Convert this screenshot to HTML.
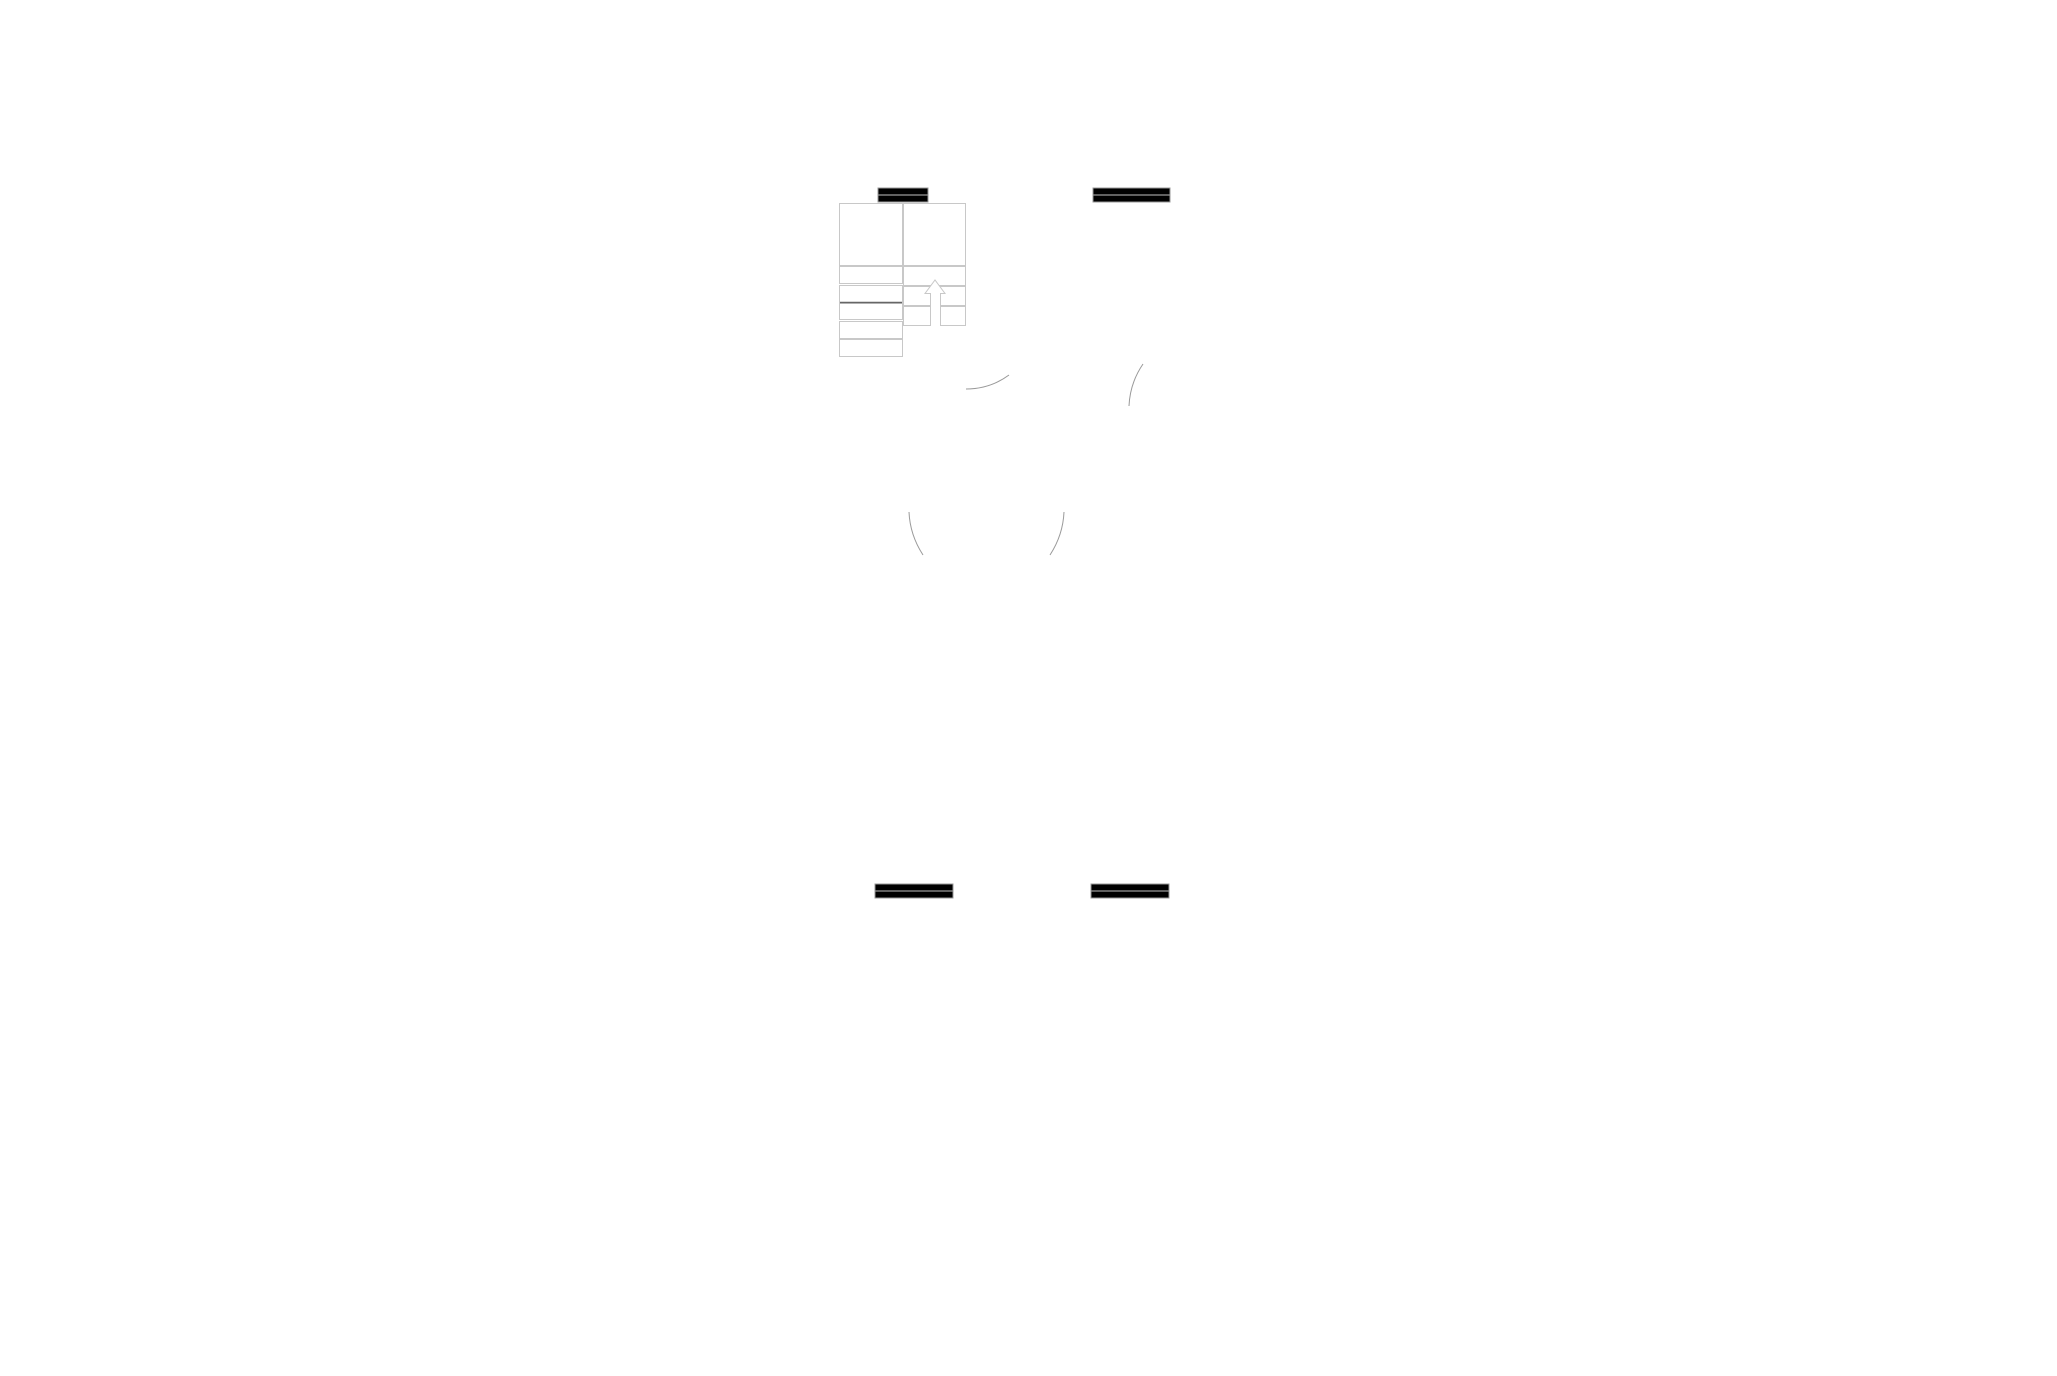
<!DOCTYPE html>
<html><head><style>html,body{margin:0;padding:0;background:#fff;}</style></head>
<body>
<svg width="2057" height="1371" viewBox="0 0 2057 1371" xmlns="http://www.w3.org/2000/svg">
<rect width="2057" height="1371" fill="#fff"/>
<g fill="#000" stroke="#999" stroke-width="1">
<rect x="878" y="188" width="50" height="14"/>
<rect x="1093" y="188" width="77" height="14"/>
<rect x="875" y="884" width="78" height="14"/>
<rect x="1091" y="884" width="78" height="14"/>
</g>
<g stroke="#999" stroke-width="1.2">
<line x1="878" y1="195" x2="928" y2="195"/>
<line x1="1093" y1="195" x2="1170" y2="195"/>
<line x1="875" y1="891" x2="953" y2="891"/>
<line x1="1091" y1="891" x2="1169" y2="891"/>
</g>
<g fill="none" stroke="#c8c8c8" stroke-width="1">
<rect x="839.5" y="203.5" width="63" height="62"/>
<rect x="903.5" y="203.5" width="62" height="62"/>
<rect x="839.5" y="266.5" width="63" height="17"/>
<rect x="839.5" y="285.5" width="63" height="17"/>
<rect x="839.5" y="303.5" width="63" height="16"/>
<rect x="839.5" y="321.5" width="63" height="17"/>
<rect x="839.5" y="339.5" width="63" height="17"/>
<rect x="903.5" y="266.5" width="62" height="19"/>
<rect x="903.5" y="286.5" width="62" height="19"/>
<rect x="903.5" y="306.5" width="27" height="19"/>
<rect x="940.5" y="306.5" width="25" height="19"/>
</g>
<line x1="840" y1="302.5" x2="902" y2="302.5" stroke="#666" stroke-width="1.5"/>
<path d="M930.5 325 V293.5 H925 L935 280 L945 293.5 H940.5 V325" fill="#fff" stroke="#c8c8c8" stroke-width="1"/>
<g fill="none" stroke="#999" stroke-width="1">
<path d="M966 389 Q990 389 1009 375"/>
<path d="M1129 406 Q1130 383 1143 364"/>
<path d="M909 512 Q910 535 923 555"/>
<path d="M1064 512 Q1063 535 1050 555"/>
</g>
</svg>
</body></html>
